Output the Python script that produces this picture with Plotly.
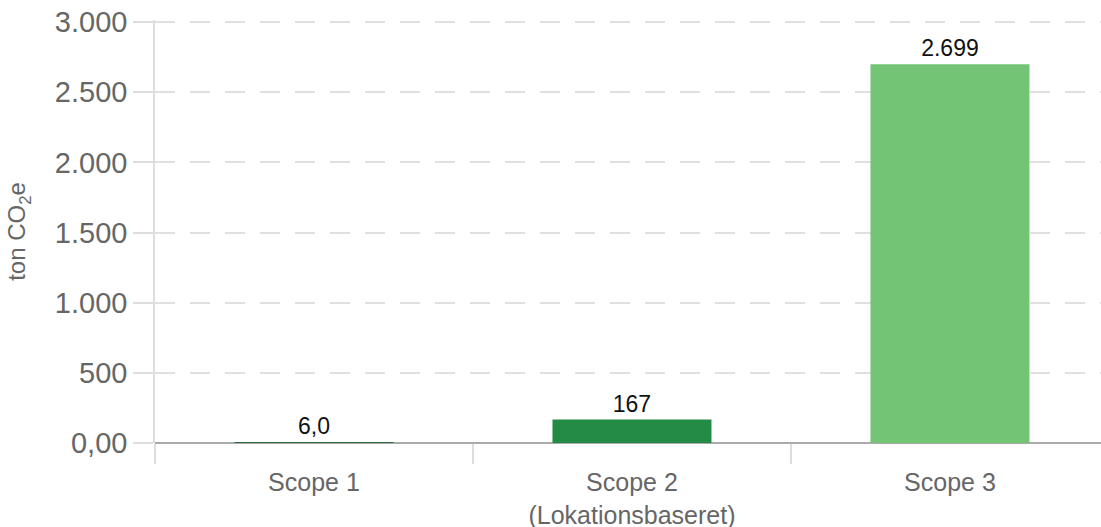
import plotly.graph_objects as go

# data
scopes = ['Scope 1', 'Scope 2<br>(Lokationsbaseret)', 'Scope 3']
emissions = [6.0, 167, 2699]
value_labels = ['6,0', '167', '2.699']
bar_colors = ['#2b6a40', '#238b45', '#74c476']
ytick_vals = [0, 500, 1000, 1500, 2000, 2500, 3000]
ytick_text = ['0,00', '500', '1.000', '1.500', '2.000', '2.500', '3.000']

font_family = 'Liberation Sans, Arial, Helvetica, sans-serif'

fig = go.Figure(go.Bar(
    x=scopes,
    y=emissions,
    width=0.5,
    marker=dict(color=bar_colors, line=dict(width=0)),
    text=value_labels,
    textposition='outside',
    textfont=dict(size=23, color='#111111', family=font_family),
    cliponaxis=False,
))

fig.update_layout(
    width=1101,
    height=527,
    margin=dict(l=155, r=0, t=20, b=84, autoexpand=False),
    plot_bgcolor='white',
    paper_bgcolor='white',
    font=dict(family=font_family, color='#666666'),
    showlegend=False,
)

fig.update_xaxes(
    range=[-0.5, 2.475],
    automargin=False,
    tickson='boundaries',
    ticks='outside',
    ticklen=20,
    tickwidth=1.5,
    tickcolor='#dddddd',
    ticklabelstandoff=22,
    showgrid=False,
    showline=False,
    tickfont=dict(size=25, color='#666666'),
)

fig.update_yaxes(
    range=[0, 3015],
    automargin=False,
    tickmode='array',
    tickvals=ytick_vals,
    ticktext=ytick_text,
    ticks='outside',
    ticklen=20,
    tickwidth=1.5,
    tickcolor='#dddddd',
    ticklabeloverflow='allow',
    ticklabelstandoff=0,
    tickfont=dict(size=29, color='#666666'),
    showgrid=True,
    gridcolor='#e0e0e0',
    griddash='20px,15px',
    gridwidth=1.5,
    zeroline=True,
    zerolinecolor='#aaaaaa',
    zerolinewidth=1.5,
    showline=True,
    linecolor='#dddddd',
    linewidth=1.5,
    title=dict(text='ton CO<sub>2</sub>e', font=dict(size=24, color='#666666'), standoff=22),
)

# drop the default 8px body margin so the figure fills the window
fig.write_html("out.html", config={'displayModeBar': False},
               post_script="document.body.style.margin='0';")
